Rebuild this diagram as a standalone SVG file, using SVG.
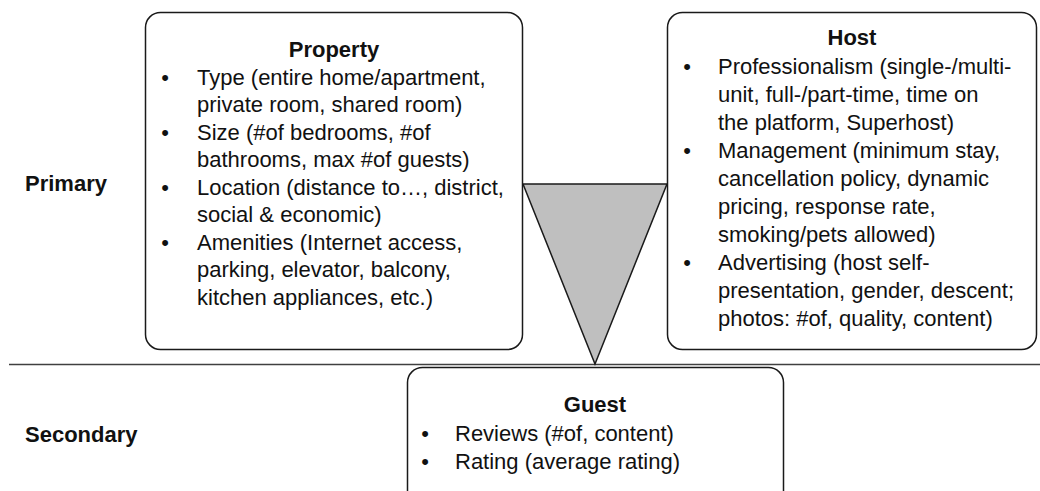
<svg xmlns="http://www.w3.org/2000/svg" width="1040" height="491" viewBox="0 0 1040 491">
  <style>
    .box { fill: #ffffff; stroke: #1a1a1a; stroke-width: 1.5; }
    .t { font-family: "Liberation Sans", Arial, sans-serif; font-size: 22px; fill: #111111; }
    .b { font-weight: bold; }
    .c { text-anchor: middle; }
  </style>

  <!-- tier labels -->
  <g id="labels">
    <text class="t b" x="25" y="191">Primary</text>
    <text class="t b" x="25" y="442">Secondary</text>
  </g>

  <!-- divider and funnel -->
  <g id="connectors">
    <line x1="9" y1="364.5" x2="1040" y2="364.5" stroke="#404040" stroke-width="1.5"/>
    <polygon points="523,184 667,184 595,364" fill="#bfbfbf" stroke="#1a1a1a" stroke-width="1.5" stroke-linejoin="miter"/>
  </g>

  <g id="property">
    <rect class="box" x="145.5" y="12.5" width="377" height="337" rx="15" ry="15"/>
    <text class="t b c" x="334" y="57">Property</text>
    <text class="t c" x="165" y="85">•</text>
    <text class="t" x="197" y="85">Type (entire home/apartment,</text>
    <text class="t" x="197" y="112">private room, shared room)</text>
    <text class="t c" x="165" y="140">•</text>
    <text class="t" x="197" y="140">Size (#of bedrooms, #of</text>
    <text class="t" x="197" y="167">bathrooms, max #of guests)</text>
    <text class="t c" x="165" y="195">•</text>
    <text class="t" x="197" y="195">Location (distance to…, district,</text>
    <text class="t" x="197" y="222">social &amp; economic)</text>
    <text class="t c" x="165" y="250">•</text>
    <text class="t" x="197" y="250">Amenities (Internet access,</text>
    <text class="t" x="197" y="277">parking, elevator, balcony,</text>
    <text class="t" x="197" y="305">kitchen appliances, etc.)</text>
  </g>

  <g id="host">
    <rect class="box" x="667.5" y="12.5" width="369" height="337" rx="15" ry="15"/>
    <text class="t b c" x="852" y="45">Host</text>
    <text class="t c" x="687" y="74">•</text>
    <text class="t" x="718" y="74">Professionalism (single-/multi-</text>
    <text class="t" x="718" y="102">unit, full-/part-time, time on</text>
    <text class="t" x="718" y="130">the platform, Superhost)</text>
    <text class="t c" x="687" y="158">•</text>
    <text class="t" x="718" y="158">Management (minimum stay,</text>
    <text class="t" x="718" y="186">cancellation policy, dynamic</text>
    <text class="t" x="718" y="214">pricing, response rate,</text>
    <text class="t" x="718" y="242">smoking/pets allowed)</text>
    <text class="t c" x="687" y="270">•</text>
    <text class="t" x="718" y="270">Advertising (host self-</text>
    <text class="t" x="718" y="298">presentation, gender, descent;</text>
    <text class="t" x="718" y="326">photos: #of, quality, content)</text>
  </g>

  <g id="guest">
    <rect class="box" x="407.5" y="367.5" width="376" height="150" rx="15" ry="15"/>
    <text class="t b c" x="595" y="412">Guest</text>
    <text class="t c" x="425" y="441">•</text>
    <text class="t" x="455" y="441">Reviews (#of, content)</text>
    <text class="t c" x="425" y="469">•</text>
    <text class="t" x="455" y="469">Rating (average rating)</text>
  </g>
</svg>
